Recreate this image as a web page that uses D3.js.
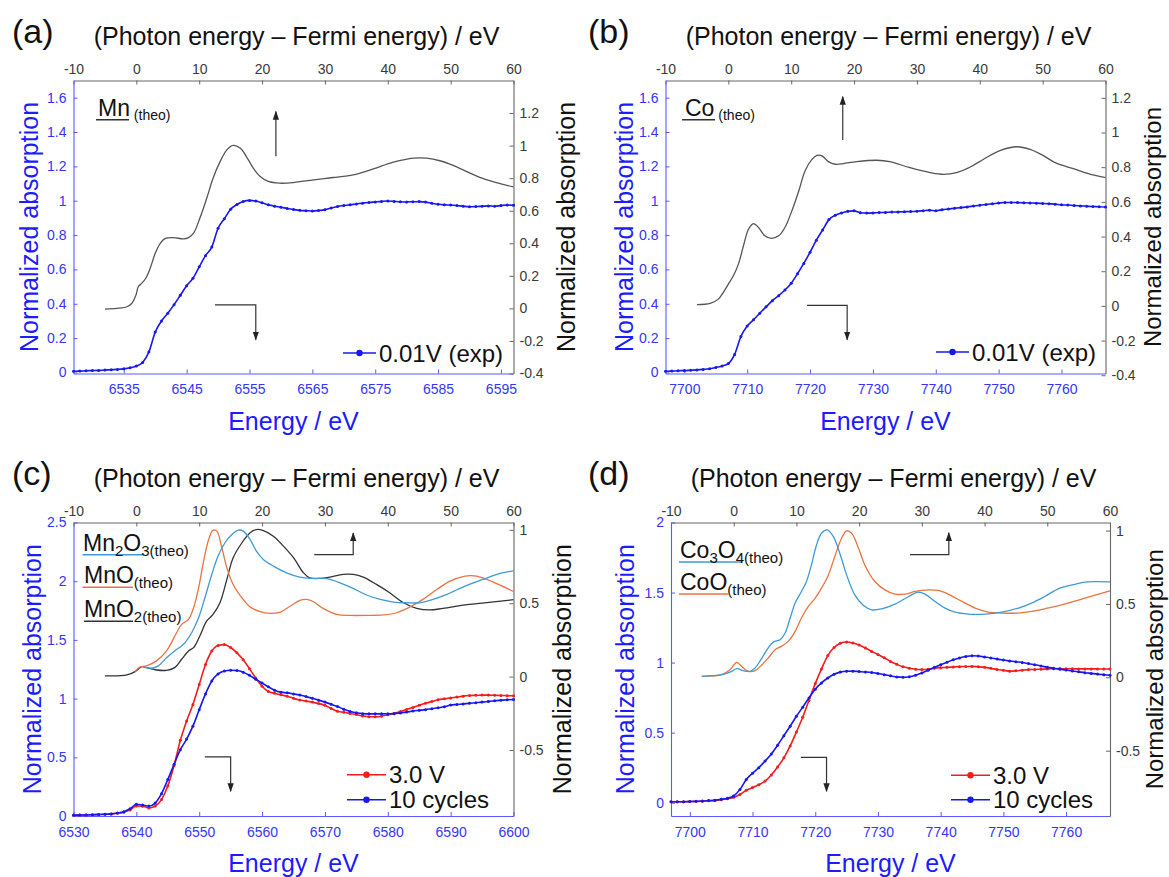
<!DOCTYPE html>
<html>
<head>
<meta charset="utf-8">
<script src="https://cdn.jsdelivr.net/npm/d3@7"></script>
<style>
  body { margin: 0; background: #fff; }
</style>
</head>
<body>
<script>
// ---------- data ----------
// experimental spectra, one value per eV
const energyA = d3.range(6527, 6598);
const mnExp001 = [0.007,0.008,0.010,0.011,0.012,0.014,0.016,0.018,0.021,0.027,0.038,0.058,0.12,0.235,0.30,0.345,0.395,0.45,0.505,0.548,0.615,0.68,0.73,0.84,0.895,0.95,0.978,0.996,1.002,0.998,0.988,0.976,0.968,0.962,0.955,0.949,0.944,0.942,0.940,0.943,0.948,0.958,0.966,0.972,0.977,0.981,0.986,0.990,0.993,0.996,0.998,0.996,0.994,0.993,0.994,0.995,0.992,0.985,0.979,0.976,0.975,0.972,0.968,0.965,0.966,0.968,0.970,0.968,0.972,0.975,0.973];

const energyB = d3.range(7697, 7768);
const coExp001 = [0.007,0.008,0.010,0.011,0.013,0.015,0.018,0.022,0.029,0.038,0.052,0.105,0.21,0.27,0.307,0.345,0.382,0.418,0.447,0.48,0.52,0.575,0.635,0.70,0.77,0.83,0.89,0.915,0.929,0.938,0.941,0.93,0.928,0.929,0.931,0.932,0.934,0.935,0.936,0.937,0.939,0.942,0.945,0.942,0.948,0.952,0.956,0.96,0.964,0.969,0.974,0.978,0.982,0.987,0.99,0.99,0.989,0.988,0.987,0.986,0.984,0.982,0.98,0.976,0.975,0.972,0.97,0.968,0.966,0.965,0.963];

const energyC = d3.range(6530, 6601);
const mn30V = [0.006,0.008,0.009,0.011,0.013,0.015,0.018,0.023,0.032,0.052,0.085,0.083,0.068,0.085,0.14,0.255,0.43,0.645,0.81,0.95,1.12,1.29,1.405,1.453,1.46,1.435,1.39,1.33,1.255,1.175,1.105,1.06,1.045,1.032,1.02,1.002,0.988,0.979,0.97,0.958,0.943,0.915,0.892,0.883,0.874,0.865,0.852,0.845,0.845,0.85,0.862,0.874,0.89,0.907,0.925,0.943,0.96,0.975,0.99,0.998,1.006,1.013,1.021,1.026,1.028,1.03,1.03,1.028,1.027,1.025,1.024];
const mn10cyc = [0.006,0.008,0.009,0.011,0.013,0.015,0.018,0.025,0.037,0.062,0.1,0.093,0.085,0.11,0.19,0.31,0.44,0.565,0.655,0.765,0.905,1.04,1.15,1.21,1.235,1.242,1.239,1.225,1.198,1.165,1.133,1.1,1.072,1.055,1.049,1.04,1.03,1.017,1.003,0.987,0.97,0.952,0.932,0.91,0.89,0.879,0.872,0.87,0.87,0.87,0.871,0.872,0.878,0.885,0.894,0.9,0.906,0.914,0.922,0.93,0.945,0.95,0.955,0.96,0.965,0.97,0.976,0.982,0.986,0.99,0.992];

const energyD = d3.range(7697, 7768);
const co30V = [0.007,0.007,0.007,0.008,0.009,0.011,0.013,0.016,0.021,0.028,0.038,0.058,0.088,0.108,0.128,0.154,0.198,0.255,0.32,0.405,0.505,0.61,0.73,0.85,0.955,1.05,1.108,1.138,1.147,1.14,1.125,1.104,1.08,1.058,1.035,1.008,0.988,0.97,0.96,0.953,0.95,0.953,0.96,0.964,0.966,0.969,0.971,0.972,0.973,0.97,0.966,0.959,0.951,0.945,0.939,0.941,0.946,0.95,0.951,0.953,0.955,0.956,0.957,0.956,0.956,0.955,0.955,0.955,0.955,0.954,0.954];
const co10cyc = [0.007,0.007,0.007,0.008,0.01,0.012,0.015,0.018,0.024,0.032,0.048,0.095,0.165,0.21,0.25,0.297,0.348,0.41,0.478,0.546,0.617,0.682,0.748,0.81,0.855,0.89,0.917,0.932,0.938,0.939,0.936,0.933,0.929,0.922,0.914,0.906,0.898,0.895,0.899,0.91,0.926,0.945,0.966,0.985,1.003,1.02,1.033,1.043,1.049,1.047,1.04,1.033,1.025,1.018,1.012,1.006,1.001,0.993,0.985,0.976,0.967,0.96,0.953,0.947,0.94,0.934,0.928,0.923,0.918,0.914,0.91];

// calculated spectra, (photon energy - Fermi energy) vs right axis
const mnTheoE = [-5,-3.1,-1.5,-0.75,-0.06,0.3,0.85,1.5,2.2,3.0,3.8,4.6,5.9,7.5,8.3,9.1,10.1,11.2,12.2,13.3,14.4,15.4,16.5,17.5,18.6,19.7,21.0,22.8,25.0,28.2,31.3,34.5,37.7,40.9,44.1,46.2,48.3,50.4,52.3,55,58,60];
const mnTheoY = [-0.004,0.0,0.01,0.03,0.082,0.133,0.154,0.185,0.246,0.338,0.40,0.43,0.435,0.427,0.435,0.462,0.554,0.677,0.80,0.90,0.974,1.001,0.985,0.933,0.862,0.81,0.78,0.769,0.773,0.79,0.804,0.82,0.857,0.898,0.923,0.923,0.907,0.878,0.845,0.80,0.765,0.746];

const coTheoE = [-5,-2.9,-1.6,-0.8,0,0.8,1.6,2.4,3.2,4.0,4.8,5.8,6.9,8.0,9.0,10.1,11.2,12.2,13.3,14.1,14.9,15.9,17.0,18.3,20.4,23.6,25.7,28.9,32.1,34.2,36.3,38.5,40.6,43.3,45.9,48.0,50.2,52.0,55,58,60];
const coTheoY = [0.007,0.014,0.039,0.078,0.126,0.174,0.241,0.346,0.442,0.475,0.452,0.404,0.389,0.404,0.452,0.548,0.663,0.778,0.845,0.868,0.865,0.832,0.817,0.821,0.832,0.84,0.832,0.797,0.769,0.759,0.769,0.801,0.846,0.897,0.918,0.903,0.865,0.826,0.79,0.755,0.74];

const mn2o3E = [1.1,2.4,3.5,4.8,6.1,7.5,8.8,9.9,10.9,12.0,13.0,14.1,15.2,16.2,17.0,18.1,19.1,20.2,21.8,23.9,26.0,28.1,30.3,32.4,34.5,36.6,38.8,40.9,43.0,45.1,47.2,49.4,52.3,55,58,60];
const mn2o3Y = [0.066,0.057,0.073,0.129,0.175,0.22,0.299,0.401,0.537,0.696,0.821,0.912,0.968,0.998,0.991,0.934,0.855,0.798,0.753,0.707,0.678,0.669,0.667,0.639,0.601,0.556,0.526,0.508,0.503,0.503,0.526,0.56,0.617,0.66,0.705,0.721];

const mnoE = [-0.2,0.6,1.6,3.2,4.8,6.4,7.2,8.3,9.1,9.9,10.7,11.5,12.2,12.8,13.6,14.4,15.4,16.8,18.1,19.7,21.3,22.9,24.5,26.0,27.1,28.2,29.7,31.9,34.0,36.6,39.3,41.4,43.5,45.6,47.8,49.9,52.3,53.3,55,57.5,60];
const mnoY = [0.034,0.066,0.073,0.107,0.175,0.299,0.356,0.39,0.469,0.605,0.787,0.934,0.998,0.991,0.878,0.741,0.628,0.537,0.474,0.442,0.431,0.44,0.481,0.519,0.526,0.51,0.465,0.424,0.417,0.417,0.42,0.435,0.474,0.526,0.594,0.651,0.685,0.688,0.675,0.63,0.58];

const mno2E = [-5,-1.5,-0.2,0.85,1.6,3.2,4.8,6.1,7.2,8.3,9.1,10.1,11.2,12.2,13.3,14.4,15.4,16.8,18.1,19.1,20.2,21.8,23.4,25.0,26.6,27.6,29.2,30.8,32.9,34.5,36.1,38.2,40.3,42.5,44.6,46.7,48.8,52.3,55,60];
const mno2Y = [0.005,0.011,0.034,0.068,0.061,0.045,0.043,0.061,0.118,0.175,0.197,0.277,0.379,0.424,0.503,0.662,0.81,0.912,0.98,1.002,0.995,0.957,0.889,0.81,0.707,0.673,0.669,0.678,0.696,0.696,0.678,0.628,0.571,0.503,0.465,0.454,0.465,0.488,0.50,0.524];

const co3o4E = [-5.1,-1.9,-0.3,0.5,1.5,2.6,3.4,4.5,5.5,6.3,7.4,8.2,9.0,9.8,10.8,11.6,12.4,13.2,14.0,14.9,15.9,17.0,18.0,19.3,20.7,22.0,23.6,25.7,27.9,29.4,30.5,32.1,33.7,35.3,37.4,40.1,42.7,45.4,47.5,49.6,52.0,54,56.3,60];
const co3o4Y = [0.007,0.018,0.041,0.059,0.045,0.041,0.063,0.132,0.2,0.24,0.256,0.302,0.404,0.506,0.585,0.653,0.766,0.902,0.982,1.005,0.959,0.834,0.698,0.562,0.49,0.46,0.467,0.499,0.551,0.58,0.567,0.517,0.472,0.444,0.431,0.431,0.444,0.472,0.506,0.551,0.608,0.63,0.65,0.65];

const cooE = [-5.1,-1.9,-0.6,0.5,1.4,2.3,3.4,4.5,5.5,6.6,7.6,8.7,9.8,10.8,11.9,13.0,14.0,15.1,16.2,17.2,18.0,18.8,19.9,20.9,22.5,24.1,25.7,27.3,28.9,31.0,32.6,34.2,36.4,38.5,40.6,42.7,45.4,47.5,49.6,52.0,56,60];
const cooY = [0.007,0.018,0.052,0.102,0.068,0.041,0.045,0.086,0.132,0.188,0.211,0.245,0.313,0.404,0.483,0.54,0.608,0.698,0.834,0.948,0.998,0.982,0.88,0.766,0.653,0.596,0.567,0.567,0.585,0.596,0.592,0.567,0.517,0.472,0.444,0.438,0.438,0.449,0.467,0.49,0.54,0.589];

// tick labels
const topTicks = [-10, 0, 10, 20, 30, 40, 50, 60];
const ticksBottomA = [6535, 6545, 6555, 6565, 6575, 6585, 6595];
const ticksBottomB = [7700, 7710, 7720, 7730, 7740, 7750, 7760];
const ticksBottomC = [6530, 6540, 6550, 6560, 6570, 6580, 6590, 6600];
const ticksLeftAB = [0, 0.2, 0.4, 0.6, 0.8, 1, 1.2, 1.4, 1.6];
const ticksRightAB = [-0.4, -0.2, 0, 0.2, 0.4, 0.6, 0.8, 1, 1.2];
const ticksLeftC = [0, 0.5, 1, 1.5, 2, 2.5];
const ticksLeftD = [0, 0.5, 1, 1.5, 2];
const ticksRightCD = [-0.5, 0, 0.5, 1];

// ---------- drawing ----------
const FONT = "Arial, 'Liberation Sans', Helvetica, sans-serif";
const BLUE_AX = "#5a5aff", BLUE_TX = "#3535ff", BLUE_TITLE = "#1c1cff";
const GRAY_AX = "#666", GRAY_TX = "#3a3a3a";
const RED = "#f41c1c", BLUE = "#1717f0";
const fmt = d => String(+d.toFixed(2));

const svg = d3.select("body").append("svg")
    .attr("width", 1169)
    .attr("height", 877)
    .attr("font-family", FONT);

svg.append("defs").append("marker")
    .attr("id", "head")
    .attr("viewBox", "0 0 10 10")
    .attr("refX", 9).attr("refY", 5)
    .attr("markerUnits", "userSpaceOnUse")
    .attr("markerWidth", 9).attr("markerHeight", 9)
    .attr("orient", "auto")
    .append("path")
    .attr("d", "M0,1.5L10,5L0,8.5z")
    .attr("fill", "#222");

function styleAxis(sel, lineCol, textCol) {
    sel.attr("font-family", FONT).attr("font-size", 14);
    sel.select(".domain").attr("stroke", lineCol).attr("stroke-width", 1.1);
    sel.selectAll(".tick line").attr("stroke", lineCol);
    sel.selectAll(".tick text").attr("fill", textCol);
}

function panel(p) {
    const x = d3.scaleLinear().domain(p.xDomain).range([p.left, p.right]);
    const xTop = d3.scaleLinear().domain([-10, 60]).range([p.left, p.right]);
    const yL = d3.scaleLinear().domain(p.yLeft).range([p.bottom, p.top]);
    const yR = d3.scaleLinear().domain(p.yRight).range([p.bottom, p.top]);
    const g = svg.append("g");

    g.append("g").attr("transform", `translate(0,${p.top})`)
        .call(d3.axisTop(xTop).tickValues(topTicks).tickFormat(fmt)
            .tickSize(-4).tickSizeOuter(0).tickPadding(7))
        .call(styleAxis, GRAY_AX, GRAY_TX);
    g.append("g").attr("transform", `translate(${p.right},0)`)
        .call(d3.axisRight(yR).tickValues(p.rightTicks).tickFormat(fmt)
            .tickSize(-4).tickSizeOuter(0).tickPadding(6))
        .call(styleAxis, GRAY_AX, GRAY_TX);
    g.append("g").attr("transform", `translate(0,${p.bottom})`)
        .call(d3.axisBottom(x).tickValues(p.bottomTicks).tickFormat(fmt)
            .tickSize(-4).tickSizeOuter(0).tickPadding(11))
        .call(styleAxis, BLUE_AX, BLUE_TX);
    g.append("g").attr("transform", `translate(${p.left},0)`)
        .call(d3.axisLeft(yL).tickValues(p.leftTicks).tickFormat(fmt)
            .tickSize(-4).tickSizeOuter(0).tickPadding(7))
        .call(styleAxis, BLUE_AX, BLUE_TX);

    const cx = (p.left + p.right) / 2, cy = (p.top + p.bottom) / 2;
    // panel letter and titles
    g.append("text").attr("x", p.labelX).attr("y", p.top - 38)
        .attr("font-size", 34).attr("fill", "#111").text(p.label);
    g.append("text").attr("x", cx + 3).attr("y", p.top - 36)
        .attr("text-anchor", "middle").attr("font-size", 25).attr("fill", "#111")
        .text("(Photon energy \u2013 Fermi energy) / eV");
    g.append("text").attr("x", cx).attr("y", p.bottom + 56)
        .attr("text-anchor", "middle").attr("font-size", 25).attr("fill", BLUE_TITLE)
        .text("Energy / eV");
    g.append("text")
        .attr("transform", `translate(${p.leftTitleX},${cy}) rotate(-90)`)
        .attr("text-anchor", "middle").attr("dominant-baseline", "central")
        .attr("font-size", 25).attr("fill", BLUE_TITLE)
        .text("Normalized absorption");
    g.append("text")
        .attr("transform", `translate(${p.rightTitleX},${cy}) rotate(-90)`)
        .attr("text-anchor", "middle").attr("dominant-baseline", "central")
        .attr("font-size", p.rightTitleSize || 25).attr("fill", "#111")
        .text("Normalized absorption");

    return { g, x, xTop, yL, yR };
}

function theo(P, es, vs, color, width) {
    const pts = es.map((e, i) => [e, vs[i]]);
    P.g.append("path").datum(pts)
        .attr("fill", "none").attr("stroke", color).attr("stroke-width", width || 1.3)
        .attr("d", d3.line().curve(d3.curveCatmullRom.alpha(0.5))
            .x(d => P.xTop(d[0])).y(d => P.yR(d[1])));
}

function exp(P, es, vs, color) {
    const pts = es.map((e, i) => [e, vs[i]]);
    P.g.append("path").datum(pts)
        .attr("fill", "none").attr("stroke", color).attr("stroke-width", 1.6)
        .attr("d", d3.line().curve(d3.curveMonotoneX)
            .x(d => P.x(d[0])).y(d => P.yL(d[1])));
    P.g.append("g").selectAll("circle").data(pts).join("circle")
        .attr("cx", d => P.x(d[0])).attr("cy", d => P.yL(d[1]))
        .attr("r", 1.5).attr("fill", color);
}

// arrows given in data units: [energy, left-axis value]
function arrow(P, pts) {
    P.g.append("path").datum(pts)
        .attr("fill", "none").attr("stroke", "#333").attr("stroke-width", 1.2)
        .attr("marker-end", "url(#head)")
        .attr("d", d3.line().x(d => P.x(d[0])).y(d => P.yL(d[1])));
}

function expLegend(P, x1, x2, y, color, label) {
    P.g.append("line").attr("x1", x1).attr("x2", x2).attr("y1", y).attr("y2", y)
        .attr("stroke", color).attr("stroke-width", 1.5);
    P.g.append("circle").attr("cx", (x1 + x2) / 2).attr("cy", y).attr("r", 3.2).attr("fill", color);
    P.g.append("text").attr("x", x2 + 3).attr("y", y + 8.5)
        .attr("font-size", 24).attr("fill", "#111").text(label);
}

// parts: [text, size, dy]
function theoLegend(P, x1, x2, y, color, tx, parts) {
    P.g.append("line").attr("x1", x1).attr("x2", x2).attr("y1", y).attr("y2", y)
        .attr("stroke", color).attr("stroke-width", 1.4);
    const t = P.g.append("text").attr("x", tx).attr("y", y - 4).attr("fill", "#111");
    parts.forEach(q => t.append("tspan").attr("font-size", q[1]).attr("dy", q[2]).text(q[0]));
}

// ---------- panel (a) ----------
const A = panel({
    left: 73.5, right: 513.5, top: 80.5, bottom: 373.5,
    xDomain: [6527, 6597], yLeft: [-0.006, 1.7], yRight: [-0.4, 1.4],
    bottomTicks: ticksBottomA, leftTicks: ticksLeftAB, rightTicks: ticksRightAB,
    label: "(a)", labelX: 12, leftTitleX: 29, rightTitleX: 566
});
theo(A, mnTheoE, mnTheoY, "#555");
exp(A, energyA, mnExp001, BLUE);
arrow(A, [[6559.2, 1.259], [6559.2, 1.519]]);
arrow(A, [[6549.5, 0.394], [6556.0, 0.394], [6556.0, 0.191]]);
theoLegend(A, 96, 129, 119.7, "#333", 98, [["Mn", 23, 0], [" (theo)", 14, 4]]);
expLegend(A, 343, 376, 353, BLUE, "0.01V (exp)");

// ---------- panel (b) ----------
const B = panel({
    left: 665.5, right: 1105.5, top: 80.5, bottom: 373.5,
    xDomain: [7697, 7767], yLeft: [-0.006, 1.7], yRight: [-0.39, 1.3],
    bottomTicks: ticksBottomB, leftTicks: ticksLeftAB, rightTicks: ticksRightAB,
    label: "(b)", labelX: 588, leftTitleX: 624, rightTitleX: 1152, rightTitleSize: 24
});
theo(B, coTheoE, coTheoY, "#555");
exp(B, energyB, coExp001, BLUE);
arrow(B, [[7725.2, 1.353], [7725.2, 1.606]]);
arrow(B, [[7719.5, 0.391], [7725.9, 0.391], [7725.9, 0.191]]);
theoLegend(B, 682, 715, 119.7, "#333", 685, [["Co", 23, 0], [" (theo)", 14, 4]]);
expLegend(B, 936, 969, 352, BLUE, "0.01V (exp)");

// ---------- panel (c) ----------
const C = panel({
    left: 73.5, right: 513.5, top: 522.5, bottom: 816,
    xDomain: [6530, 6600], yLeft: [0, 2.5], yRight: [-0.95, 1.05],
    bottomTicks: ticksBottomC, leftTicks: ticksLeftC, rightTicks: ticksRightCD,
    label: "(c)", labelX: 12, leftTitleX: 32, rightTitleX: 562
});
theo(C, mno2E, mno2Y, "#333");
theo(C, mnoE, mnoY, "#e8743f");
theo(C, mn2o3E, mn2o3Y, "#3e9ad6");
exp(C, energyC, mn30V, RED);
exp(C, energyC, mn10cyc, BLUE);
arrow(C, [[6568.3, 2.226], [6574.5, 2.226], [6574.5, 2.41]]);
arrow(C, [[6550.9, 0.503], [6555.0, 0.503], [6555.0, 0.21]]);
theoLegend(C, 82.5, 143.5, 554.7, "#3e9ad6", 83,
    [["Mn", 23, 0], ["2", 15, 5], ["O", 23, -5], ["3(theo)", 15, 5]]);
theoLegend(C, 82.5, 133, 587.3, "#e8743f", 84,
    [["MnO", 23, 0], ["(theo)", 15, 5]]);
theoLegend(C, 84, 133, 621.3, "#333", 84,
    [["MnO", 23, 0], ["2(theo)", 15, 5]]);
expLegend(C, 347, 386, 774.7, RED, "3.0 V");
expLegend(C, 347, 386, 799.7, BLUE, "10 cycles");

// ---------- panel (d) ----------
const D = panel({
    left: 671, right: 1110, top: 522.5, bottom: 816,
    xDomain: [7697, 7767], yLeft: [-0.095, 2.0], yRight: [-0.945, 1.055],
    bottomTicks: ticksBottomB, leftTicks: ticksLeftD, rightTicks: ticksRightCD,
    label: "(d)", labelX: 588, leftTitleX: 625, rightTitleX: 1154, rightTitleSize: 24
});
theo(D, cooE, cooY, "#e8743f");
theo(D, co3o4E, co3o4Y, "#3e9ad6");
exp(D, energyD, co30V, RED);
exp(D, energyD, co10cyc, BLUE);
arrow(D, [[7735.1, 1.771], [7741.3, 1.771], [7741.3, 1.926]]);
arrow(D, [[7717.7, 0.324], [7721.8, 0.324], [7721.8, 0.081]]);
theoLegend(D, 679, 743, 562, "#3e9ad6", 680,
    [["Co", 23, 0], ["3", 15, 5], ["O", 23, -5], ["4(theo)", 15, 5]]);
theoLegend(D, 679, 728, 594, "#e8743f", 680,
    [["CoO", 23, 0], ["(theo)", 15, 5]]);
expLegend(D, 951, 990, 775.3, RED, "3.0 V");
expLegend(D, 951, 990, 799.7, BLUE, "10 cycles");
</script>
</body>
</html>
